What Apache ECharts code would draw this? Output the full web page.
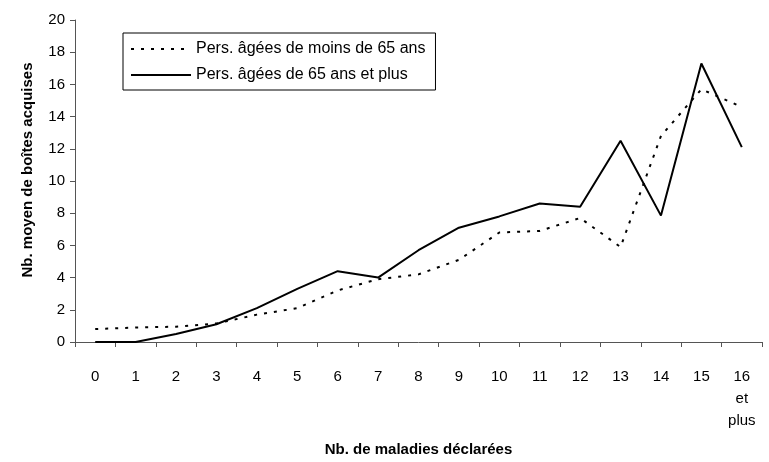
<!DOCTYPE html>
<html>
<head>
<meta charset="utf-8">
<script src="https://cdn.jsdelivr.net/npm/echarts@6/dist/echarts.min.js"></script>
<style>
  html, body { margin: 0; padding: 0; background: #fff; }
  #chart { width: 769px; height: 462px; }
</style>
</head>
<body>
<div id="chart"></div>
<script>
// categories (nombre de maladies)
var categories = ['0', '1', '2', '3', '4', '5', '6', '7', '8', '9', '10', '11', '12', '13', '14', '15', '16\net\nplus'];
// moins de 65 ans (pointillé)
var moins65 = [0.8, 0.9, 0.95, 1.15, 1.7, 2.1, 3.2, 3.9, 4.2, 5.1, 6.8, 6.9, 7.7, 5.9, 12.8, 15.7, 14.6];
// 65 ans et plus (trait plein)
var plus65 = [0, 0, 0.5, 1.1, 2.1, 3.3, 4.4, 4.0, 5.7, 7.1, 7.8, 8.6, 8.4, 12.5, 7.85, 17.3, 12.1];

var font = 'Liberation Sans, Arial, sans-serif';
var chart = echarts.init(document.getElementById('chart'));

var option = {
  backgroundColor: '#fff',
  animation: false,
  textStyle: { fontFamily: font },
  grid: { left: 75, right: 7, top: 20, bottom: 110, containLabel: false },
  legend: {
    orient: 'vertical',
    left: 123,
    top: 33,
    borderColor: '#000',
    borderWidth: 1,
    padding: [8, 10, 7, 7],
    itemGap: 10,
    itemWidth: 60,
    itemHeight: 12,
    itemStyle: { opacity: 0 },
    textStyle: { fontSize: 16, color: '#000', fontFamily: font },
    data: ['Pers. âgées de moins de 65 ans', 'Pers. âgées de 65 ans et plus']
  },
  xAxis: {
    type: 'category',
    data: categories,
    boundaryGap: true,
    name: 'Nb. de maladies déclarées',
    nameLocation: 'middle',
    nameGap: 100,
    nameTextStyle: { fontSize: 15, fontWeight: 'bold', color: '#000' },
    axisLine: { lineStyle: { color: '#555', width: 1 } },
    axisTick: { show: true, alignWithLabel: false, length: 5, lineStyle: { color: '#555' } },
    axisLabel: { fontSize: 15, color: '#000', margin: 24, lineHeight: 22, interval: 0 },
    splitLine: { show: false }
  },
  yAxis: {
    type: 'value',
    min: 0,
    max: 20,
    interval: 2,
    name: 'Nb. moyen de boîtes acquises',
    nameLocation: 'middle',
    nameGap: 40,
    nameTextStyle: { fontSize: 15, fontWeight: 'bold', color: '#000', padding: [0, 0, 0, 22] },
    axisLine: { show: true, lineStyle: { color: '#555', width: 1 } },
    axisTick: { show: true, inside: false, length: 5, lineStyle: { color: '#555' } },
    axisLabel: { fontSize: 15, color: '#000', margin: 10 },
    splitLine: { show: false }
  },
  series: [
    {
      name: 'Pers. âgées de moins de 65 ans',
      type: 'line',
      data: moins65,
      symbol: 'none',
      lineStyle: { color: '#000', width: 2, type: [3, 7] },
      itemStyle: { color: '#000' }
    },
    {
      name: 'Pers. âgées de 65 ans et plus',
      type: 'line',
      data: plus65,
      symbol: 'none',
      lineStyle: { color: '#000', width: 2, type: 'solid' },
      itemStyle: { color: '#000' }
    }
  ]
};

chart.setOption(option);
</script>
</body>
</html>
